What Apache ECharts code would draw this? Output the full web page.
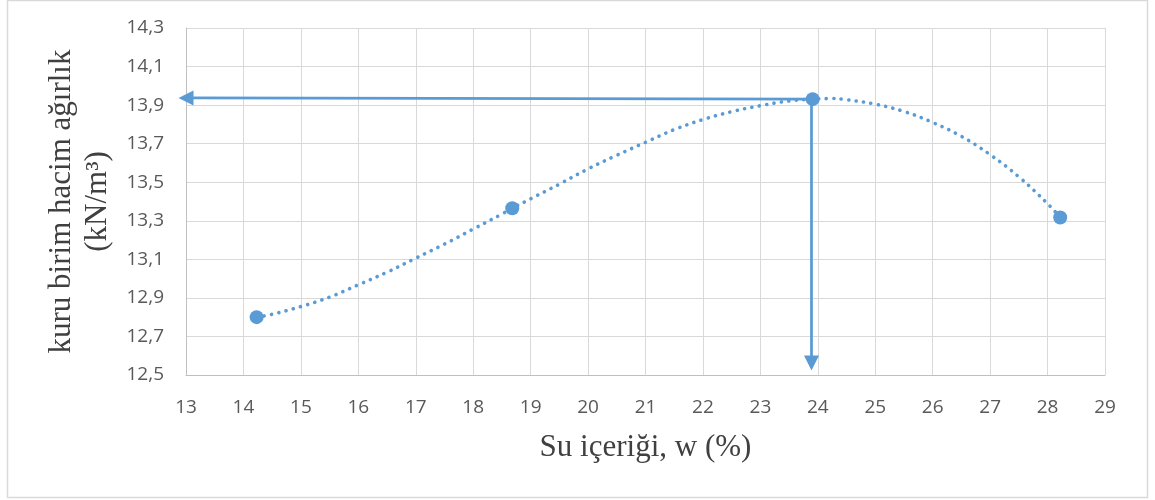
<!DOCTYPE html>
<html><head><meta charset="utf-8">
<script src="https://cdn.jsdelivr.net/npm/echarts@6/dist/echarts.min.js"></script>
<style>html,body{margin:0;padding:0;background:#fff}#c{width:1155px;height:500px}</style>
</head><body><div id="c"></div>
<script>
// Measured points
const waterContent = [14.23, 18.68, 23.91, 28.22];
const dryUnitWeight = [12.80, 13.365, 13.931, 13.317];

// Dotted trendline
const trendX = [14.23, 14.5, 15, 15.5, 16, 16.5, 17, 17.5, 18, 18.5, 18.68, 19, 19.5, 20, 20.5, 21, 21.5, 22, 22.5, 23, 23.5, 23.91, 24.25, 24.5, 25, 25.5, 26, 26.5, 27, 27.5, 28, 28.22];
const trendY = [12.80, 12.815, 12.855, 12.904, 12.968, 13.033, 13.106, 13.179, 13.257, 13.335, 13.365, 13.414, 13.49, 13.569, 13.64, 13.707, 13.773, 13.825, 13.866, 13.897, 13.922, 13.931, 13.934, 13.928, 13.905, 13.867, 13.810, 13.738, 13.643, 13.528, 13.389, 13.317];

// Arrows (start at the optimum point)
const hArrowX = [23.91, 13.0];
const hArrowY = [13.931, 13.937];
const vArrowX = [23.89, 23.89];
const vArrowY = [13.931, 12.562];

// Axis ticks
const xMin = 13, xMax = 29, xStep = 1;
const yMin = 12.5, yMax = 14.3, yStep = 0.2;

const xTitle = 'Su içeriği, w (%)';
const yTitle = 'kuru birim hacim ağırlık\n(kN/m³)';

const BLUE = '#5b9bd5';
const chart = echarts.init(document.getElementById('c'), null, {renderer: 'canvas'});

function pairs(xs, ys) { return xs.map((x, i) => [x, ys[i]]); }

const hData = pairs(hArrowX, hArrowY).map((v, i) => i === 0
  ? {value: v, symbol: 'none'}
  : {value: v, symbol: 'triangle', symbolSize: [15, 15], symbolRotate: 90});
const vData = pairs(vArrowX, vArrowY).map((v, i) => i === 0
  ? {value: v, symbol: 'none'}
  : {value: v, symbol: 'triangle', symbolSize: [15, 15], symbolRotate: 180});

chart.setOption({
  animation: false,
  backgroundColor: '#ffffff',
  graphic: [{
    type: 'rect', silent: true, z: -10,
    shape: {x: 7.5, y: 0.5, width: 1140, height: 497},
    style: {fill: 'none', stroke: '#d9d9d9', lineWidth: 1.5}
  }],
  grid: {left: 186, right: 50, top: 28, bottom: 125},
  xAxis: {
    type: 'value', min: xMin, max: xMax, interval: xStep,
    axisLine: {show: true, onZero: false, lineStyle: {color: '#bfbfbf', width: 1}},
    axisTick: {show: false},
    splitLine: {show: true, lineStyle: {color: '#d9d9d9', width: 1}},
    axisLabel: {color: '#595959', fontFamily: 'Open Sans', fontSize: 19, margin: 23},
    name: xTitle, nameLocation: 'middle', nameGap: 57,
    nameTextStyle: {fontFamily: 'Liberation Serif', fontSize: 31, color: '#404040'}
  },
  yAxis: {
    type: 'value', min: yMin, max: yMax, interval: yStep,
    axisLine: {show: true, onZero: false, lineStyle: {color: '#bfbfbf', width: 1}},
    axisTick: {show: false},
    splitLine: {show: true, lineStyle: {color: '#d9d9d9', width: 1}},
    axisLabel: {
      color: '#595959', fontFamily: 'Open Sans', fontSize: 19, margin: 22,
      formatter: v => v.toFixed(1).replace('.', ',')
    },
    name: yTitle, nameLocation: 'middle', nameGap: 66, nameRotate: 90,
    nameTextStyle: {fontFamily: 'Liberation Serif', fontSize: 31, lineHeight: 36, color: '#404040', align: 'center'}
  },
  series: [
    {
      name: 'trend', type: 'line', smooth: 0.4, symbol: 'none', silent: true,
      data: pairs(trendX, trendY),
      lineStyle: {color: BLUE, width: 3.6, type: [0.1, 7.4], cap: 'round'},
      z: 2
    },
    {
      name: 'hArrow', type: 'line', data: hData, clip: false, silent: true,
      showSymbol: true, showAllSymbol: true,
      lineStyle: {color: BLUE, width: 2.75},
      itemStyle: {color: BLUE, opacity: 1},
      z: 3
    },
    {
      name: 'vArrow', type: 'line', data: vData, clip: false, silent: true,
      showSymbol: true, showAllSymbol: true,
      lineStyle: {color: BLUE, width: 2.75},
      itemStyle: {color: BLUE, opacity: 1},
      z: 3
    },
    {
      name: 'points', type: 'scatter', data: pairs(waterContent, dryUnitWeight),
      symbol: 'circle', symbolSize: 14,
      itemStyle: {color: BLUE, opacity: 1},
      z: 4
    }
  ]
});
</script>
</body></html>
